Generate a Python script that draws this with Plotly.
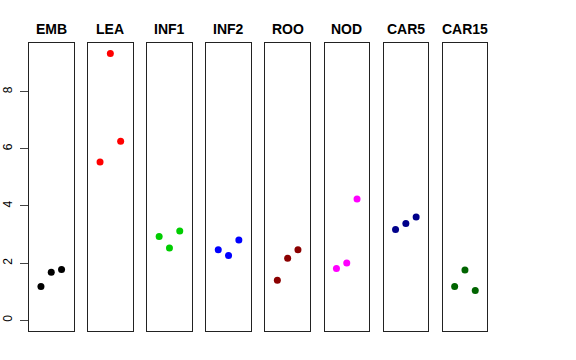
import plotly.graph_objects as go

categories = ["EMB", "LEA", "INF1", "INF2", "ROO", "NOD", "CAR5", "CAR15"]
colors = ["#000000", "#FF0000", "#00CD00", "#0000FF", "#8B0000", "#FF00FF", "#00008B", "#006400"]
values = [
    [1.18, 1.68, 1.78],
    [5.54, 9.33, 6.26],
    [2.93, 2.53, 3.12],
    [2.47, 2.27, 2.81],
    [1.40, 2.17, 2.47],
    [1.81, 2.00, 4.24],
    [3.18, 3.39, 3.61],
    [1.18, 1.76, 1.04],
]
x_pos = [1, 2, 3]
y_ticks = [0, 2, 4, 6, 8]

W, H = 576, 360
left0, pw, step = 29.0, 44.5, 59.1
top, bottom = 43.0, 331.0

fig = go.Figure()
layout = dict(
    width=W, height=H, margin=dict(l=0, r=0, t=0, b=0),
    paper_bgcolor="white", plot_bgcolor="white", showlegend=False,
    font=dict(family="Liberation Sans, Arial, sans-serif", color="black"),
)
annotations = []
for i, (cat, col, vals) in enumerate(zip(categories, colors, values)):
    n = "" if i == 0 else str(i + 1)
    fig.add_trace(go.Scatter(x=x_pos, y=vals, mode="markers",
                             marker=dict(color=col, size=7),
                             xaxis="x" + n, yaxis="y" + n, hoverinfo="skip"))
    x0 = (left0 + i * step) / W
    x1 = (left0 + i * step + pw) / W
    layout["xaxis" + n] = dict(domain=[x0, x1], range=[-0.16, 4.16], showticklabels=False,
                               ticks="", showgrid=False, zeroline=False, showline=True,
                               mirror=True, linecolor="#222", linewidth=1, anchor="y" + n)
    ya = dict(domain=[1 - bottom / H, 1 - top / H], range=[-0.375, 9.70], showgrid=False,
              zeroline=False, showline=True, mirror=True, linecolor="#222", linewidth=1,
              anchor="x" + n)
    if i == 0:
        ya.update(tickvals=y_ticks, ticktext=[str(t) for t in y_ticks], ticks="outside",
                  ticklen=8, tickcolor="#444", tickangle=-90, tickfont=dict(size=12),
                  ticklabelstandoff=3)
    else:
        ya.update(showticklabels=False, ticks="")
    layout["yaxis" + n] = ya
    annotations.append(dict(x=(x0 + x1) / 2, y=1 - 29 / H, xref="paper", yref="paper",
                            text="<b>" + cat + "</b>", showarrow=False,
                            font=dict(size=14), xanchor="center", yanchor="middle"))
layout["annotations"] = annotations
fig.update_layout(**layout)
fig.write_html("out.html", config={"displayModeBar": False},
               post_script="document.body.style.margin='0';")
